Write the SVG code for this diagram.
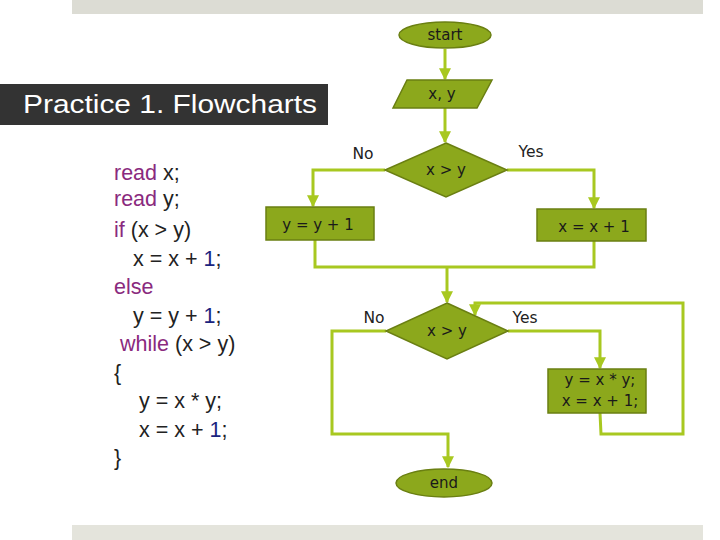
<svg xmlns="http://www.w3.org/2000/svg" width="720" height="540" viewBox="0 0 720 540">
<style>
.node{fill:#8ca81c;stroke:#6a7f12;stroke-width:1.5}
.nt{font-family:"DejaVu Sans","Liberation Sans",sans-serif;font-size:15px;fill:#1a1a1a;text-anchor:middle}
.lbl{font-family:"DejaVu Sans","Liberation Sans",sans-serif;font-size:15.5px;fill:#222;text-anchor:middle}
.conn{fill:none;stroke:#a8c820;stroke-width:3;stroke-linejoin:miter}
.code{font-family:"Liberation Sans",Arial,sans-serif;font-size:21.5px;fill:#222}
.kw{fill:#8a2a7e}
.num{fill:#1a237e}
</style>
<defs>
<marker id="arr" viewBox="0 0 10 10" refX="9" refY="5" markerWidth="4" markerHeight="4" orient="auto" markerUnits="strokeWidth">
<path d="M0,0 L10,5 L0,10 z" fill="#a8c820"/>
</marker>
</defs>
<rect x="0" y="0" width="720" height="540" fill="#ffffff"/>
<rect x="72" y="0" width="631" height="14" fill="#dcdcd4"/>
<rect x="72" y="525" width="631" height="15" fill="#e4e4dc"/>
<g id="title">
<rect x="0" y="84" width="328" height="41" fill="#333333"/>
<text x="23" y="113" font-family="'Liberation Sans',sans-serif" font-size="26" fill="#ffffff" textLength="294" lengthAdjust="spacingAndGlyphs">Practice 1. Flowcharts</text>
</g>
<g id="code" class="code">
<text x="114" y="180"><tspan class="kw">read</tspan> x;</text>
<text x="114" y="206"><tspan class="kw">read</tspan> y;</text>
<text x="114" y="237"><tspan class="kw">if</tspan> (x &gt; y)</text>
<text x="133" y="265.5">x = x + <tspan class="num">1</tspan>;</text>
<text x="114" y="294"><tspan class="kw">else</tspan></text>
<text x="133" y="322.5">y = y + <tspan class="num">1</tspan>;</text>
<text x="120" y="351"><tspan class="kw">while</tspan> (x &gt; y)</text>
<text x="114" y="379.5">{</text>
<text x="139" y="408">y = x * y;</text>
<text x="139" y="436.5">x = x + <tspan class="num">1</tspan>;</text>
<text x="114" y="465">}</text>
</g>
<g id="connectors">
<line class="conn" x1="445" y1="49" x2="445" y2="79" marker-end="url(#arr)"/>
<line class="conn" x1="445" y1="108" x2="445" y2="142" marker-end="url(#arr)"/>
<polyline class="conn" points="385,170 313,170 313,206" marker-end="url(#arr)"/>
<polyline class="conn" points="507,170 594,170 594,208" marker-end="url(#arr)"/>
<polyline class="conn" points="315,240 315,267 594,267 594,241"/>
<line class="conn" x1="447" y1="267" x2="447" y2="302" marker-end="url(#arr)"/>
<polyline class="conn" points="386,331 332,331 332,434 448,434 448,467" marker-end="url(#arr)"/>
<polyline class="conn" points="508,331 600,331 600,368" marker-end="url(#arr)"/>
<polyline class="conn" points="600,413 601,434 683,434 683,303 475,303 475,315" marker-end="url(#arr)"/>
<text class="lbl" x="363" y="159">No</text>
<text class="lbl" x="531" y="157">Yes</text>
<text class="lbl" x="374" y="323">No</text>
<text class="lbl" x="525" y="323">Yes</text>
</g>
<g id="start">
<ellipse class="node" cx="445" cy="35" rx="46" ry="13"/>
<text class="nt" x="445" y="40">start</text>
</g>
<g id="input">
<polygon class="node" points="407,80 492,80 477,108 393,108"/>
<text class="nt" x="442" y="99">x, y</text>
</g>
<g id="cond1">
<polygon class="node" points="446,143 507,170 446,197 385,170"/>
<text class="nt" x="446" y="175">x &gt; y</text>
</g>
<g id="incy">
<rect class="node" x="266" y="207" width="108" height="33"/>
<text class="nt" x="318" y="230">y = y + 1</text>
</g>
<g id="incx">
<rect class="node" x="537" y="209" width="109" height="32"/>
<text class="nt" x="594" y="232">x = x + 1</text>
</g>
<g id="cond2">
<polygon class="node" points="447,303 508,331 447,359 386,331"/>
<text class="nt" x="447" y="336">x &gt; y</text>
</g>
<g id="body">
<rect class="node" x="548" y="369" width="98" height="44"/>
<text class="nt" x="600" y="385">y = x * y;</text>
<text class="nt" x="600" y="406">x = x + 1;</text>
</g>
<g id="end">
<ellipse class="node" cx="444" cy="483" rx="48" ry="14"/>
<text class="nt" x="444" y="488">end</text>
</g>
</svg>
